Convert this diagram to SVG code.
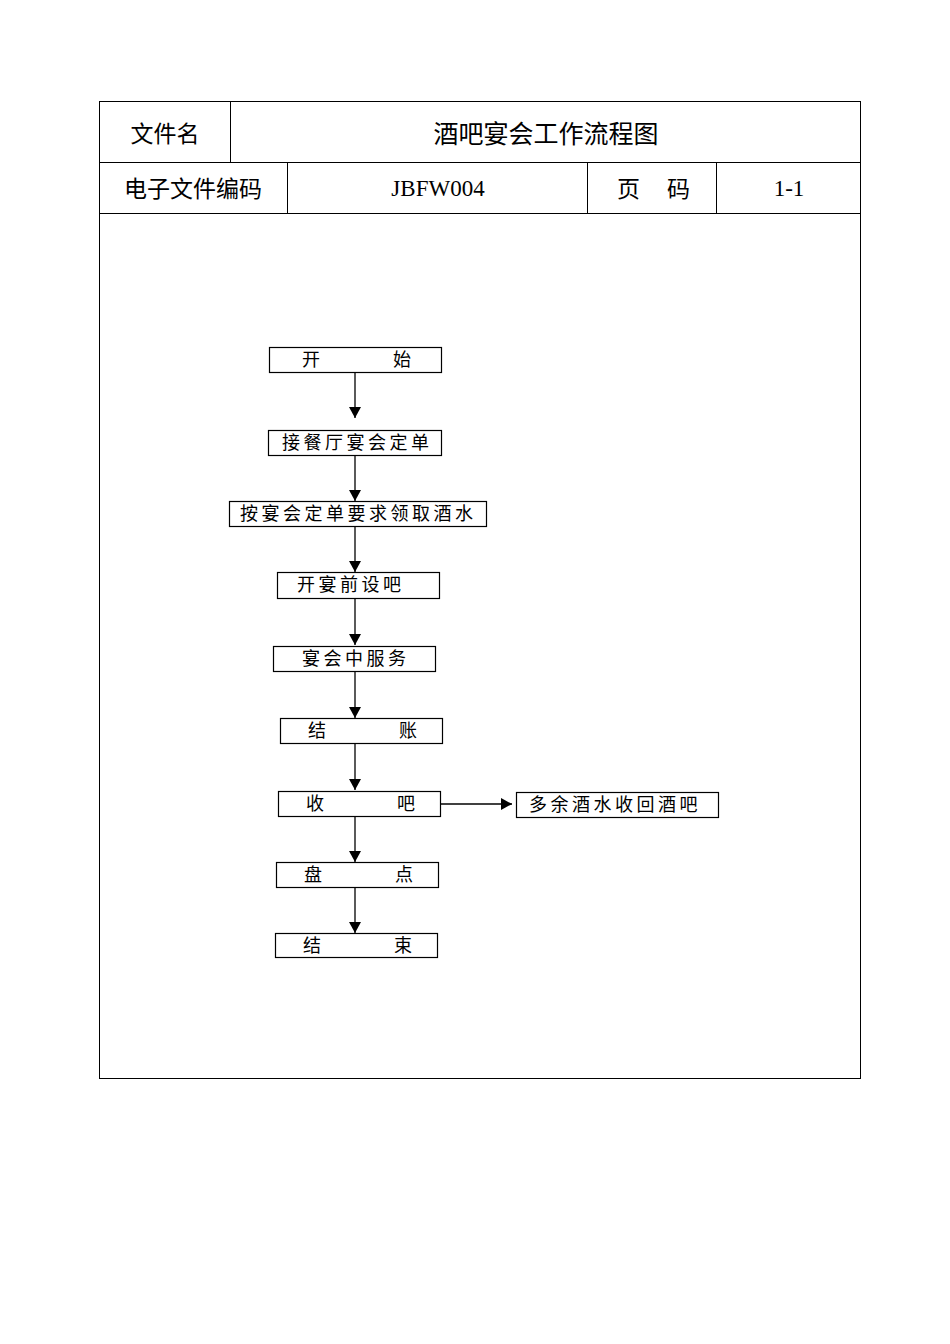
<svg xmlns="http://www.w3.org/2000/svg" width="950" height="1344" viewBox="0 0 950 1344">
<style>
.tbl{fill:none;stroke:#000;stroke-width:1}
.hs{font-family:"Noto Sans CJK SC","Liberation Sans",sans-serif;font-size:23px;fill:#000}
.ht{font-family:"Noto Sans CJK SC","Liberation Sans",sans-serif;font-size:25px;fill:#000}
.hr{font-family:"Liberation Serif","Noto Sans CJK SC",serif;font-size:23px;fill:#000}
.box{fill:#fff;stroke:#000;stroke-width:1.2}
.ft{font-family:"Liberation Serif","Noto Sans CJK SC",serif;font-size:18px;fill:#000;letter-spacing:3.5px}
.ln{stroke:#000;stroke-width:1.3;fill:none}
</style>
<defs>
<marker id="ah" markerWidth="12" markerHeight="12" refX="11" refY="6" orient="auto" markerUnits="userSpaceOnUse">
<path d="M0,0 L11,6 L0,12 z" fill="#000"/>
</marker>
</defs>
<rect width="950" height="1344" fill="#fff"/>
<g id="table">
<rect class="tbl" x="99.5" y="101.5" width="761" height="977"/>
<line class="tbl" x1="99" y1="162.5" x2="861" y2="162.5"/>
<line class="tbl" x1="99" y1="213.5" x2="861" y2="213.5"/>
<line class="tbl" x1="230.5" y1="101" x2="230.5" y2="162"/>
<line class="tbl" x1="287.5" y1="162" x2="287.5" y2="213"/>
<line class="tbl" x1="587.5" y1="162" x2="587.5" y2="213"/>
<line class="tbl" x1="716.5" y1="162" x2="716.5" y2="213"/>
<text class="hs" x="165" y="142" text-anchor="middle">文件名</text>
<text class="ht" x="546" y="143" text-anchor="middle">酒吧宴会工作流程图</text>
<text class="hs" x="193" y="197" text-anchor="middle">电子文件编码</text>
<text class="hr" x="438" y="196" text-anchor="middle">JBFW004</text>
<text class="hs" x="617" y="197">页</text>
<text class="hs" x="667" y="197">码</text>
<text class="hr" x="789" y="196" text-anchor="middle">1-1</text>
</g>
<g id="connectors">
<line class="ln" x1="355" y1="372" x2="355" y2="418" marker-end="url(#ah)"/>
<line class="ln" x1="355" y1="455" x2="355" y2="501" marker-end="url(#ah)"/>
<line class="ln" x1="355" y1="526" x2="355" y2="572" marker-end="url(#ah)"/>
<line class="ln" x1="355" y1="598" x2="355" y2="645" marker-end="url(#ah)"/>
<line class="ln" x1="355" y1="671" x2="355" y2="718" marker-end="url(#ah)"/>
<line class="ln" x1="355" y1="743" x2="355" y2="790" marker-end="url(#ah)"/>
<line class="ln" x1="355" y1="816" x2="355" y2="862" marker-end="url(#ah)"/>
<line class="ln" x1="355" y1="887" x2="355" y2="933" marker-end="url(#ah)"/>
<line class="ln" x1="440" y1="804" x2="512" y2="804" marker-end="url(#ah)"/>
</g>
<g id="n1"><rect class="box" x="269.5" y="347.5" width="172" height="25"/>
<text class="ft" x="302" y="366">开</text><text class="ft" x="393" y="366">始</text></g>
<g id="n2"><rect class="box" x="268.5" y="430.5" width="173" height="25"/>
<text class="ft" x="282" y="449">接餐厅宴会定单</text></g>
<g id="n3"><rect class="box" x="229.5" y="501.5" width="257" height="25"/>
<text class="ft" x="240" y="520">按宴会定单要求领取酒水</text></g>
<g id="n4"><rect class="box" x="277.5" y="572.5" width="162" height="26"/>
<text class="ft" x="297" y="591">开宴前设吧</text></g>
<g id="n5"><rect class="box" x="273.5" y="646.5" width="162" height="25"/>
<text class="ft" x="302" y="665">宴会中服务</text></g>
<g id="n6"><rect class="box" x="280.5" y="718.5" width="162" height="25"/>
<text class="ft" x="308" y="737">结</text><text class="ft" x="399" y="737">账</text></g>
<g id="n7"><rect class="box" x="278.5" y="791.5" width="162" height="25"/>
<text class="ft" x="306" y="810">收</text><text class="ft" x="397" y="810">吧</text></g>
<g id="n8"><rect class="box" x="516.5" y="792.5" width="202" height="25"/>
<text class="ft" x="529" y="811">多余酒水收回酒吧</text></g>
<g id="n9"><rect class="box" x="276.5" y="862.5" width="162" height="25"/>
<text class="ft" x="304" y="881">盘</text><text class="ft" x="395" y="881">点</text></g>
<g id="n10"><rect class="box" x="275.5" y="933.5" width="162" height="24"/>
<text class="ft" x="303" y="952">结</text><text class="ft" x="394" y="952">束</text></g>
</svg>
